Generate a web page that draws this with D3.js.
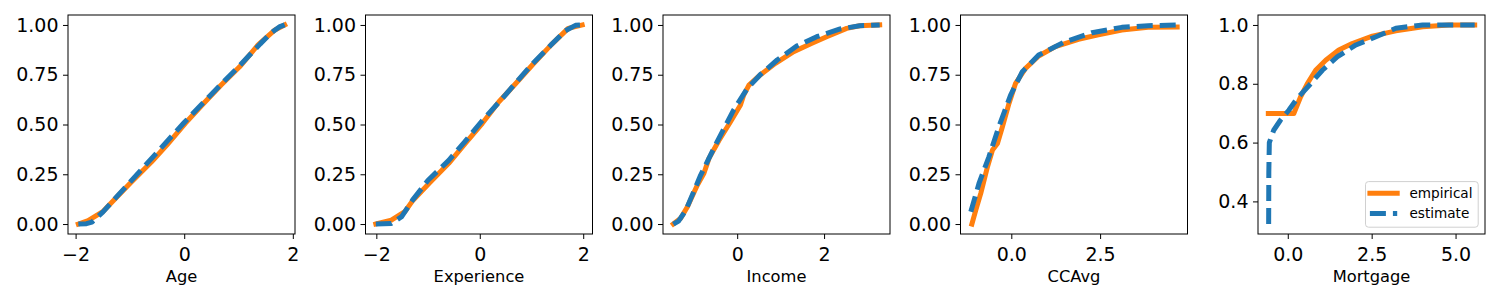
<!DOCTYPE html>
<html>
<head>
<meta charset="utf-8">
<script src="https://cdn.jsdelivr.net/npm/d3@7"></script>
<style>
  body { margin: 0; background: #fff; }
  svg { font-family: "DejaVu Sans", sans-serif; }
</style>
</head>
<body>
<div id="chart"></div>
<script>
// ---- data (standardised features, CDF values) ----
const features = ["Age", "Experience", "Income", "CCAvg", "Mortgage"];
const seriesNames = ["empirical", "estimate"];

const ageEmpX = [-1.95, -1.77, -1.50, -1.28, -1.00, -0.60, -0.32, 0.02, 0.33, 0.68, 1.02, 1.36, 1.67, 1.85];
const ageEmpY = [0.0, 0.017, 0.062, 0.124, 0.204, 0.313, 0.397, 0.506, 0.598, 0.698, 0.79, 0.90, 0.975, 1.0];
const ageEstX = [-1.95, -1.80, -1.70, -1.60, -1.50, -1.00, -0.60, 0.00, 0.60, 1.00, 1.40, 1.60, 1.75, 1.85];
const ageEstY = [0.0, 0.002, 0.01, 0.035, 0.06, 0.21, 0.33, 0.51, 0.68, 0.79, 0.905, 0.96, 0.99, 1.0];

const expEmpX = [-2.01, -1.71, -1.45, -1.29, -0.96, -0.60, -0.28, 0.05, 0.37, 0.70, 1.02, 1.38, 1.71, 1.98];
const expEmpY = [0.0, 0.02, 0.062, 0.12, 0.21, 0.305, 0.405, 0.506, 0.614, 0.707, 0.80, 0.90, 0.983, 1.0];
const expEstX = [-2.01, -1.71, -1.51, -1.30, -1.00, -0.60, -0.30, 0.05, 0.40, 0.70, 1.00, 1.38, 1.65, 1.85, 1.98];
const expEstY = [0.0, 0.003, 0.037, 0.12, 0.22, 0.32, 0.41, 0.52, 0.62, 0.71, 0.80, 0.90, 0.97, 0.998, 1.0];

const incEmpX = [-1.47, -1.30, -1.145, -0.916, -0.765, -0.65, -0.42, -0.153, 0.076, 0.15, 0.27, 0.53, 0.88, 1.30, 1.72, 2.06, 2.52, 2.82, 3.28];
const incEmpY = [0.0, 0.029, 0.087, 0.196, 0.255, 0.33, 0.42, 0.514, 0.598, 0.648, 0.698, 0.749, 0.807, 0.866, 0.908, 0.941, 0.983, 0.996, 1.0];
const incEstX = [-1.47, -1.35, -1.18, -0.84, -0.46, -0.08, 0.23, 0.53, 0.92, 1.37, 1.83, 2.37, 2.82, 3.28];
const incEstY = [0.0, 0.015, 0.070, 0.246, 0.414, 0.573, 0.68, 0.75, 0.824, 0.894, 0.941, 0.98, 0.996, 1.0];

const ccEmpX = [-1.11, -1.00, -0.86, -0.67, -0.53, -0.39, -0.25, -0.065, 0.12, 0.40, 0.77, 1.24, 1.89, 2.45, 3.11, 3.85, 4.67];
const ccEmpY = [0.0, 0.070, 0.154, 0.288, 0.372, 0.405, 0.489, 0.606, 0.707, 0.782, 0.844, 0.891, 0.928, 0.95, 0.975, 0.988, 0.99];
const ccEstX = [-1.14, -0.91, -0.63, -0.35, -0.02, 0.31, 0.77, 1.52, 2.27, 3.11, 3.85, 4.67];
const ccEstY = [0.062, 0.204, 0.338, 0.489, 0.648, 0.765, 0.849, 0.916, 0.961, 0.988, 0.996, 1.0];

const mortEmpX = [-0.58, 0.18, 0.38, 0.58, 0.83, 1.13, 1.52, 1.92, 2.52, 3.22, 4.02, 4.81, 5.57];
const mortEmpY = [0.699, 0.699, 0.755, 0.80, 0.846, 0.88, 0.915, 0.937, 0.962, 0.98, 0.994, 1.0, 1.0];
const mortEstX = [-0.57, -0.565, -0.55, -0.42, -0.22, 0.03, 0.28, 0.64, 1.03, 1.48, 2.03, 2.63, 3.22, 4.02, 5.57];
const mortEstY = [0.323, 0.50, 0.60, 0.642, 0.676, 0.71, 0.75, 0.795, 0.846, 0.892, 0.932, 0.96, 0.989, 1.0, 1.0];

const empX = [ageEmpX, expEmpX, incEmpX, ccEmpX, mortEmpX];
const empY = [ageEmpY, expEmpY, incEmpY, ccEmpY, mortEmpY];
const estX = [ageEstX, expEstX, incEstX, ccEstX, mortEstX];
const estY = [ageEstY, expEstY, incEstY, ccEstY, mortEstY];

const xTicks = [[-2, 0, 2], [-2, 0, 2], [0, 2], [0, 2.5], [0, 2.5, 5]];
const yTicks = [
  [0, 0.25, 0.5, 0.75, 1], [0, 0.25, 0.5, 0.75, 1], [0, 0.25, 0.5, 0.75, 1],
  [0, 0.25, 0.5, 0.75, 1], [0.4, 0.6, 0.8, 1.0]
];
const xFormats = ["d", "d", "d", ".1f", ".1f"];
const yFormats = [".2f", ".2f", ".2f", ".2f", ".1f"];

// ---- layout ----
const width = 1500;
const height = 300;
const axW = 227, axH = 219, axTop = 15;
const orange = "#ff7f0e", blue = "#1f77b4";

const svg = d3.select("#chart")
    .append("svg")
    .attr("width", width)
    .attr("height", height);

// matplotlib-like 5% margins
function padded(vals) {
    const [lo, hi] = d3.extent(vals);
    const m = (hi - lo) * 0.05;
    return [lo - m, hi + m];
}

features.forEach(function(name, i) {
    const left = 68 + i * 297.5;
    const g = svg.append("g");

    const x = d3.scaleLinear()
        .domain(padded(empX[i].concat(estX[i])))
        .range([left, left + axW]);
    const y = d3.scaleLinear()
        .domain(padded(empY[i].concat(estY[i])))
        .range([axTop + axH, axTop]);

    svg.append("clipPath")
        .attr("id", "clip" + i)
        .append("rect")
        .attr("x", left).attr("y", axTop)
        .attr("width", axW).attr("height", axH);

    const line = d3.line().x(d => x(d[0])).y(d => y(d[1]));

    g.append("path")
        .datum(d3.zip(empX[i], empY[i]))
        .attr("clip-path", "url(#clip" + i + ")")
        .attr("d", line)
        .attr("fill", "none")
        .attr("stroke", orange)
        .attr("stroke-width", 5)
        .attr("stroke-linecap", "square")
        .attr("stroke-linejoin", "round");

    g.append("path")
        .datum(d3.zip(estX[i], estY[i]))
        .attr("clip-path", "url(#clip" + i + ")")
        .attr("d", line)
        .attr("fill", "none")
        .attr("stroke", blue)
        .attr("stroke-width", 5)
        .attr("stroke-dasharray", "16,7")
        .attr("stroke-linecap", "butt")
        .attr("stroke-linejoin", "round");

    const xAxis = g.append("g")
        .attr("transform", `translate(0,${axTop + axH})`)
        .call(d3.axisBottom(x)
            .tickValues(xTicks[i])
            .tickFormat(d3.format(xFormats[i]))
            .tickSize(5)
            .tickPadding(9));

    const yAxis = g.append("g")
        .attr("transform", `translate(${left},0)`)
        .call(d3.axisLeft(y)
            .tickValues(yTicks[i])
            .tickFormat(d3.format(yFormats[i]))
            .tickSize(5)
            .tickPadding(4.5));

    [xAxis, yAxis].forEach(a => {
        a.select(".domain").remove();
        a.selectAll("line").attr("stroke", "#000").attr("stroke-width", 1);
        a.selectAll("text")
            .attr("fill", "#000")
            .style("font-family", "DejaVu Sans")
            .style("font-size", "19px");
    });

    // spines
    g.append("rect")
        .attr("x", left).attr("y", axTop)
        .attr("width", axW).attr("height", axH)
        .attr("fill", "none")
        .attr("stroke", "#000")
        .attr("stroke-width", 1);

    g.append("text")
        .attr("x", left + axW / 2)
        .attr("y", 282)
        .attr("text-anchor", "middle")
        .style("font-size", "16.3px")
        .attr("fill", "#000")
        .text(name);

    // legend in the last panel, lower right
    if (i === features.length - 1) {
        const lw = 112.7, lh = 45.6, pad = 6.8;
        const lx = left + axW - pad - lw;
        const ly = axTop + axH - pad - lh;
        const lg = g.append("g");
        lg.append("rect")
            .attr("x", lx).attr("y", ly)
            .attr("width", lw).attr("height", lh)
            .attr("rx", 3)
            .attr("fill", "#fff").attr("fill-opacity", 0.8)
            .attr("stroke", "#d0d0d0").attr("stroke-width", 1);
        seriesNames.forEach(function(s, k) {
            const cy = ly + 11.6 + k * 20.4;
            lg.append("line")
                .attr("x1", lx + 4.4).attr("x2", lx + 31.7)
                .attr("y1", cy).attr("y2", cy)
                .attr("stroke", k === 0 ? orange : blue)
                .attr("stroke-width", 5)
                .attr("stroke-linecap", k === 0 ? "square" : "butt")
                .attr("stroke-dasharray", k === 0 ? null : "16,7");
            lg.append("text")
                .attr("x", lx + 44)
                .attr("y", cy + 4.8)
                .style("font-size", "13.6px")
                .attr("fill", "#000")
                .text(s);
        });
    }
});
</script>
</body>
</html>
